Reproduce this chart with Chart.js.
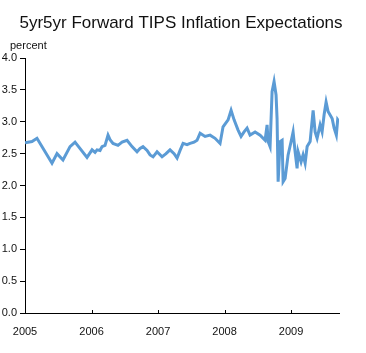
<!DOCTYPE html>
<html>
<head>
<meta charset="utf-8">
<script src="https://cdn.jsdelivr.net/npm/chart.js@4.4.0/dist/chart.umd.min.js"></script>
<style>
  html, body { margin: 0; padding: 0; background: #fff; }
  #chart { display: block; }
</style>
</head>
<body>
<canvas id="chart" width="366" height="353"></canvas>
<script>
// data (dates as decimal years)
var dates = [
  2005.000, 2005.105, 2005.180, 2005.406, 2005.481, 2005.571, 2005.677, 2005.752, 2005.932,
  2006.008, 2006.053, 2006.083, 2006.128, 2006.158, 2006.203, 2006.248, 2006.278, 2006.323,
  2006.398, 2006.459, 2006.534, 2006.609, 2006.684, 2006.729, 2006.774, 2006.835, 2006.880,
  2006.925, 2006.985, 2007.060, 2007.120, 2007.180, 2007.241, 2007.286, 2007.331, 2007.376,
  2007.436, 2007.481, 2007.541, 2007.586, 2007.632, 2007.707, 2007.782, 2007.857, 2007.932,
  2007.977, 2008.053, 2008.098, 2008.143, 2008.203, 2008.248, 2008.293, 2008.338, 2008.383,
  2008.459, 2008.534, 2008.609, 2008.639, 2008.654, 2008.684, 2008.714, 2008.744, 2008.774,
  2008.789, 2008.805, 2008.835, 2008.865, 2008.880, 2008.910, 2008.955, 2009.000, 2009.030,
  2009.060, 2009.090, 2009.105, 2009.150, 2009.180, 2009.211, 2009.241, 2009.286, 2009.331,
  2009.361, 2009.391, 2009.436, 2009.466, 2009.496, 2009.526, 2009.556, 2009.617, 2009.647,
  2009.680, 2009.700, 2009.720
];
var inflation = [
  2.67, 2.69, 2.74, 2.35, 2.50, 2.40, 2.61, 2.68, 2.44,
  2.56, 2.52, 2.56, 2.55, 2.61, 2.63, 2.79, 2.72, 2.66,
  2.63, 2.68, 2.71, 2.61, 2.53, 2.58, 2.61, 2.55, 2.48,
  2.45, 2.53, 2.45, 2.50, 2.56, 2.50, 2.43, 2.55, 2.66,
  2.64, 2.66, 2.68, 2.71, 2.82, 2.77, 2.79, 2.74, 2.66,
  2.92, 3.03, 3.18, 3.03, 2.87, 2.77, 2.84, 2.90, 2.79,
  2.84, 2.79, 2.71, 2.95, 2.69, 2.61, 3.47, 3.63, 3.42,
  3.05, 2.06, 2.69, 2.71, 2.06, 2.11, 2.48, 2.69, 2.84,
  2.53, 2.27, 2.53, 2.37, 2.48, 2.35, 2.61, 2.69, 3.18,
  2.84, 2.74, 2.95, 2.84, 3.11, 3.31, 3.16, 3.05, 2.90,
  2.79, 3.03, 3.00
];
var yearTicks = [2005, 2006, 2007, 2008, 2009];
var titleText = '5yr5yr Forward TIPS Inflation Expectations';
var unitText = 'percent';

var points = dates.map((d, i) => ({ x: d, y: inflation[i] }));

// title, unit label and the small inward ticks on the x axis
var extras = {
  id: 'extras',
  afterDraw: chart => {
    var ctx = chart.ctx;
    var xs = chart.scales.x;
    var area = chart.chartArea;
    ctx.save();
    ctx.fillStyle = '#111';
    ctx.font = '17px "Liberation Sans", Arial, sans-serif';
    ctx.textAlign = 'center';
    ctx.textBaseline = 'middle';
    ctx.fillText(titleText, 181, 23);
    ctx.font = '11px "Liberation Sans", Arial, sans-serif';
    ctx.textAlign = 'left';
    ctx.fillText(unitText, 10, 46);
    ctx.strokeStyle = '#000';
    ctx.lineWidth = 1;
    yearTicks.forEach(t => {
      var px = Math.round(xs.getPixelForValue(t)) + 0.5;
      ctx.beginPath();
      ctx.moveTo(px, area.bottom);
      ctx.lineTo(px, area.bottom - 3);
      ctx.stroke();
    });
    ctx.restore();
  }
};

var ctx = document.getElementById('chart').getContext('2d');
new Chart(ctx, {
  type: 'line',
  data: {
    datasets: [{
      data: points,
      borderColor: '#5b9bd5',
      borderWidth: 3,
      pointRadius: 0,
      tension: 0,
      fill: false
    }]
  },
  options: {
    responsive: false,
    animation: false,
    layout: { padding: { top: 58, right: 27, left: 0, bottom: 0 } },
    plugins: {
      legend: { display: false },
      title: { display: false },
      tooltip: { enabled: false }
    },
    scales: {
      x: {
        type: 'linear',
        min: 2005,
        max: 2009.72,
        afterFit: scale => { scale.height = 40 },
        afterBuildTicks: scale => { scale.ticks = yearTicks.map(v => ({ value: v })) },
        border: { color: '#000', width: 1 },
        grid: { display: false, drawTicks: false },
        ticks: {
          padding: 12,
          color: '#111',
          font: { family: '"Liberation Sans", Arial, sans-serif', size: 11 },
          callback: v => String(v),
          maxRotation: 0
        }
      },
      y: {
        min: 0,
        max: 4,
        afterFit: scale => { scale.width = 25 },
        border: { color: '#000', width: 1 },
        grid: { drawOnChartArea: false, tickLength: 5, color: '#000' },
        ticks: {
          stepSize: 0.5,
          padding: 3,
          color: '#111',
          font: { family: '"Liberation Sans", Arial, sans-serif', size: 11 },
          callback: v => v.toFixed(1)
        }
      }
    }
  },
  plugins: [extras]
});
</script>
</body>
</html>
